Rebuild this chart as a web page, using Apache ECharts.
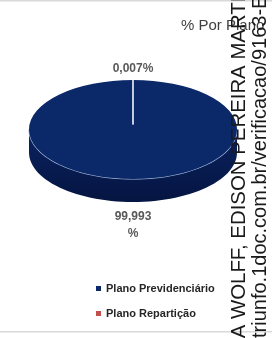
<!DOCTYPE html>
<html>
<head>
<meta charset="utf-8">
<script src="https://cdn.jsdelivr.net/npm/echarts@6/dist/echarts.min.js"></script>
<style>
  html, body { margin: 0; padding: 0; background: #fff; }
  #main { width: 272px; height: 338px; }
</style>
</head>
<body>
<div id="main"></div>
<script>
// dados
var categories = ["Plano Previdenciário", "Plano Repartição"];
var values = [99.993, 0.007];
var labels = ["99,993\n%", "0,007%"];
var colors = ["#0b2869", "#c0504d"];
var titleText = "% Por Plano";
var stamp1 = "IA WOLFF, EDISON PEREIRA MARTINS";
var stamp2 = "triunfo.1doc.com.br/verificacao/9163-E";

var chart = echarts.init(document.getElementById("main"));

// geometria do "pizza 3d"
var pie = { cx: 133, cy: 129.5, r: 104, sy: 0.476, depth: 23 };
var total = values.reduce(function (a, b) { return a + b; }, 0);

function sliceAngles(i) {
  var start = -Math.PI / 2;
  for (var k = 0; k < i; k++) start += values[k] / total * Math.PI * 2;
  return [start, start + values[i] / total * Math.PI * 2];
}

function ellipsePt(a, dy) {
  return [pie.cx + pie.r * Math.cos(a), pie.cy + pie.r * pie.sy * Math.sin(a) + (dy || 0)];
}

function renderSlice(params, api) {
  var i = params.seriesIndex;
  var ang = sliceAngles(i);
  var a = ang[0], b = ang[1];
  var kids = [];

  // lateral visivel (parte da frente: 0..PI)
  var s = Math.max(a, 0), e = Math.min(b, Math.PI);
  if (e > s) {
    var pts = [];
    var n = 60;
    for (var k = 0; k <= n; k++) pts.push(ellipsePt(s + (e - s) * k / n));
    for (var k2 = n; k2 >= 0; k2--) pts.push(ellipsePt(s + (e - s) * k2 / n, pie.depth));
    kids.push({
      type: "polygon",
      shape: { points: pts },
      style: {
        fill: i === 0 ? new echarts.graphic.LinearGradient(0, 0, 0, 1, [
          { offset: 0, color: "#0a2260" },
          { offset: 1, color: "#051541" }
        ]) : "#8e3330"
      }
    });
    // brilho na borda superior
    var rim = [];
    for (var k3 = 0; k3 <= n; k3++) rim.push(ellipsePt(s + (e - s) * k3 / n));
    kids.push({
      type: "polyline",
      shape: { points: rim },
      style: { stroke: "#a9bbe0", lineWidth: 1.2, fill: null }
    });
  }

  // face superior
  kids.push({
    type: "sector",
    x: pie.cx, y: pie.cy, scaleY: pie.sy,
    shape: { cx: 0, cy: 0, r: pie.r, r0: 0, startAngle: a, endAngle: b, clockwise: true },
    style: { fill: api.visual("color") }
  });

  // linha divisoria branca
  var p = ellipsePt(a);
  kids.push({
    type: "line",
    shape: { x1: pie.cx, y1: pie.cy - 5, x2: p[0], y2: p[1] },
    style: { stroke: "#e8ecf5", lineWidth: 1.2 }
  });

  // rotulo
  var mid = (a + b) / 2;
  var lower = Math.sin(mid) > 0;
  var lp = ellipsePt(mid, lower ? pie.depth + 23 : -11);
  kids.push({
    type: "text",
    x: lp[0], y: lp[1],
    style: {
      text: labels[i],
      fill: "#595959",
      font: "bold 12px 'Liberation Sans', Arial, sans-serif",
      align: "center",
      verticalAlign: "middle",
      lineHeight: 17
    }
  });

  return { type: "group", children: kids };
}

var series = categories.map(function (name, i) {
  return {
    name: name,
    type: "custom",
    coordinateSystem: "none",
    itemStyle: { color: colors[i] },
    data: [values[i]],
    renderItem: renderSlice,
    silent: true
  };
});

chart.setOption({
  animation: false,
  title: {
    text: titleText,
    left: 176,
    top: 13,
    textStyle: { fontSize: 15, fontWeight: "normal", color: "#404040", fontFamily: "Liberation Sans" }
  },
  legend: {
    orient: "vertical",
    left: 91,
    top: 278,
    icon: "rect",
    itemWidth: 5,
    itemHeight: 5,
    itemGap: 14,
    data: categories,
    textStyle: { fontSize: 11, fontWeight: "bold", color: "#262626", fontFamily: "Liberation Sans" }
  },
  graphic: [
    { type: "rect", shape: { x: 0, y: 0, width: 272, height: 1.5 }, style: { fill: "#d9d9d9" } },
    { type: "rect", shape: { x: 0, y: 331, width: 272, height: 1.5 }, style: { fill: "#d9d9d9" } },
    {
      type: "text", x: 249, y: 344, rotation: Math.PI / 2, z: 100,
      style: { text: stamp1, font: "20.4px 'Liberation Sans'", fill: "#1a1a1a", verticalAlign: "bottom" }
    },
    {
      type: "text", x: 270, y: 338, rotation: Math.PI / 2, z: 100,
      style: { text: stamp2, font: "20px 'Liberation Sans'", fill: "#1a1a1a", verticalAlign: "bottom" }
    }
  ],
  series: series
});
</script>
</body>
</html>
